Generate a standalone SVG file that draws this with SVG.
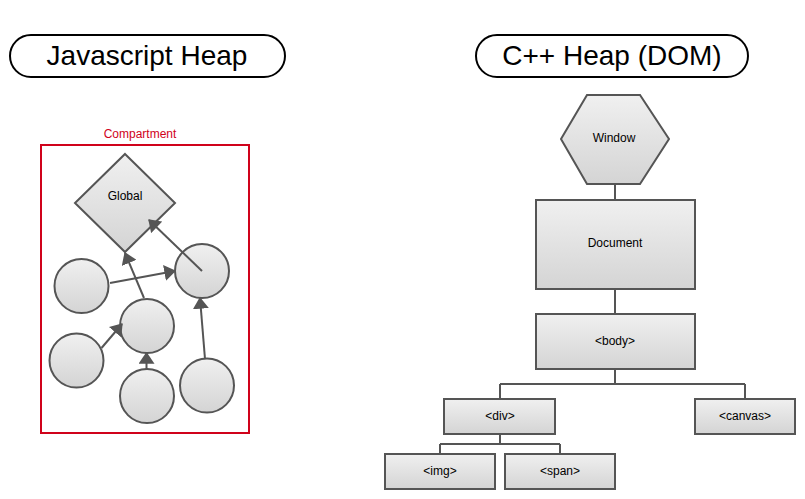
<svg xmlns="http://www.w3.org/2000/svg" width="805" height="499" viewBox="0 0 805 499">
<defs>
<linearGradient id="g" x1="0" y1="0" x2="0" y2="1">
<stop offset="0" stop-color="#f0f0f0"/>
<stop offset="1" stop-color="#d4d4d4"/>
</linearGradient>
<marker id="ah" markerUnits="userSpaceOnUse" markerWidth="12" markerHeight="16" viewBox="0 0 11 15" refX="10" refY="7.5" orient="auto">
<path d="M0,0 L11,7.5 L0,15 Z" fill="#555"/>
</marker>
<style>
.title{fill:#fff;stroke:#000;stroke-width:2}
.tt{font-family:"Liberation Sans",Arial,sans-serif;font-size:28px;fill:#000;text-anchor:middle}
.sh{fill:url(#g);stroke:#555;stroke-width:2}
.lb{font-family:"Liberation Sans",Arial,sans-serif;font-size:12px;fill:#000;text-anchor:middle}
.cn{stroke:#555;stroke-width:2;fill:none}
.ar{stroke:#555;stroke-width:2;fill:none;marker-end:url(#ah)}
</style>
</defs>
<rect width="805" height="499" fill="#fff"/>
<g id="title-js"><rect class="title" x="10" y="35" width="275" height="42" rx="21"/><text class="tt" x="147" y="65">Javascript Heap</text></g>
<g id="title-cpp"><rect class="title" x="476" y="35" width="272" height="42" rx="21"/><text class="tt" x="612" y="65">C++ Heap (DOM)</text></g>
<g id="compartment"><rect x="41" y="145" width="208" height="288" fill="none" stroke="#d0021b" stroke-width="2"/><text x="140" y="138" font-family="Liberation Sans,Arial,sans-serif" font-size="12" fill="#d0021b" text-anchor="middle">Compartment</text></g>
<g id="global"><path class="sh" d="M125,154 L175,203 L125,252 L75,203 Z"/><text class="lb" x="125" y="200">Global</text></g>
<g id="c1"><circle class="sh" cx="81.5" cy="286" r="27"/></g>
<g id="c2"><circle class="sh" cx="202" cy="271" r="27"/></g>
<g id="c3"><circle class="sh" cx="147" cy="326" r="27"/></g>
<g id="c4"><circle class="sh" cx="76.5" cy="360.5" r="27"/></g>
<g id="c5"><circle class="sh" cx="147" cy="396" r="27"/></g>
<g id="c6"><circle class="sh" cx="207" cy="385.5" r="27"/></g>
<g id="window"><path class="sh" d="M587,95 L640,95 L669,139 L640,184 L587,184 L561,139 Z"/><text class="lb" x="614" y="142">Window</text></g>
<g id="document"><rect class="sh" x="536" y="200" width="159" height="89"/><text class="lb" x="615" y="247">Document</text></g>
<g id="body"><rect class="sh" x="536" y="314" width="159" height="55"/><text class="lb" x="615" y="345">&lt;body&gt;</text></g>
<g id="div"><rect class="sh" x="444" y="399" width="111" height="35"/><text class="lb" x="500" y="420">&lt;div&gt;</text></g>
<g id="canvas"><rect class="sh" x="695" y="399" width="100" height="35"/><text class="lb" x="745" y="420">&lt;canvas&gt;</text></g>
<g id="img"><rect class="sh" x="385" y="454" width="110" height="35"/><text class="lb" x="440" y="475">&lt;img&gt;</text></g>
<g id="span"><rect class="sh" x="505" y="454" width="110" height="35"/><text class="lb" x="560" y="475">&lt;span&gt;</text></g>
<g id="connectors">
<path class="ar" d="M110,283 L175,271"/>
<path class="ar" d="M144,298 L125,253"/>
<path class="ar" d="M202,271 L149,220"/>
<path class="ar" d="M101.5,348 L122,324"/>
<path class="ar" d="M146.5,369 L146.5,353"/>
<path class="ar" d="M205,359 L200,298"/>
<path class="cn" d="M615,184 V200"/>
<path class="cn" d="M615,289 V314"/>
<path class="cn" d="M615,369 V384 M500,384 H745 M500,384 V399 M745,384 V399"/>
<path class="cn" d="M500,434 V444 M440,444 H560 M440,444 V454 M560,444 V454"/>
</g>
</svg>
